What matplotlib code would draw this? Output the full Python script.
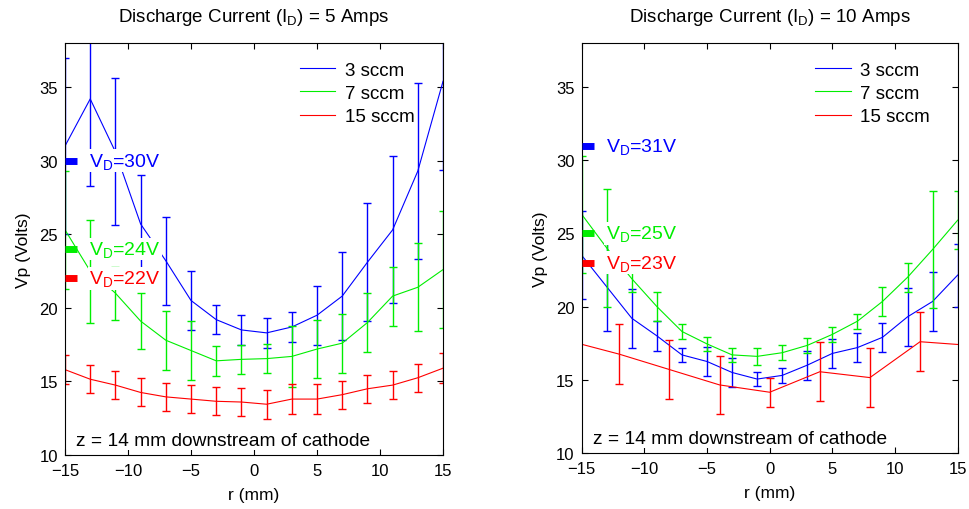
import matplotlib
matplotlib.use('Agg')
import matplotlib.pyplot as plt
import numpy as np

plt.rcParams['font.family'] = ['Liberation Sans', 'DejaVu Sans']
plt.rcParams['mathtext.default'] = 'regular'

# ---------------- data ----------------
r_odd = [-15, -13, -11, -9, -7, -5, -3, -1, 1, 3, 5, 7, 9, 11, 13, 15]

# I_D = 5 A
blue_5 = [31.0, 34.2, 30.6, 25.7, 23.2, 20.5, 19.2, 18.5, 18.3, 18.7, 19.5, 20.8, 23.1, 25.3, 29.3, 35.4]
blue_5_err = [6, 5.9, 5, 3.3, 3, 2, 1, 1, 1, 1, 2, 3, 4, 5, 6, 6]
green_5 = [25.3, 22.5, 21.0, 19.1, 17.8, 17.1, 16.4, 16.5, 16.55, 16.7, 17.2, 17.6, 19.0, 20.8, 21.4, 22.6]
green_5_err = [4, 3.5, 1.8, 1.9, 2, 2, 1, 1, 1, 2.1, 2, 2, 2, 2, 3, 4]
red_5 = [15.8, 15.15, 14.75, 14.25, 13.95, 13.8, 13.65, 13.6, 13.45, 13.8, 13.8, 14.1, 14.5, 14.75, 15.25, 15.9]
red_5_err = [1.0, 0.95, 0.95, 0.95, 0.95, 0.95, 0.95, 0.95, 1.0, 1.0, 1.0, 0.95, 0.95, 0.95, 0.95, 1.0]

# I_D = 10 A
blue_10 = [23.5, 21.35, 19.2, 18.0, 16.7, 16.25, 15.5, 15.05, 15.3, 16.0, 16.8, 17.2, 17.9, 19.3, 20.35, 22.15]
blue_10_err = [3, 3, 2, 1, 0.5, 1, 1, 0.5, 0.5, 1, 1, 1, 1, 2, 2, 2.15]
green_10 = [26.3, 24.0, 21.9, 20.0, 18.3, 17.45, 16.7, 16.6, 16.85, 17.35, 18.1, 19.0, 20.35, 22.0, 23.9, 25.9]
green_10_err = [4, 4, 0.9, 1, 0.5, 0.5, 0.5, 0.6, 0.5, 0.5, 0.5, 0.5, 1, 1, 4, 2]
r_even = [-16, -12, -8, -4, 0, 4, 8, 12, 16]
red_10 = [17.65, 16.75, 15.7, 14.65, 14.15, 15.55, 15.15, 17.6, 17.35]
red_10_err = [2, 2.05, 2, 2, 1, 2, 2, 2, 2]

series_labels = ['3 sccm', '7 sccm', '15 sccm']
titles = [r'Discharge Current (I$_{D}$) = 5 Amps', r'Discharge Current (I$_{D}$) = 10 Amps']
vd_5 = [30, 24, 22]
vd_10 = [31, 25, 23]
note = 'z = 14 mm downstream of cathode'

colors = ['#0000ff', '#00ee00', '#ff0000']

fig = plt.figure(figsize=(9.69, 5.10), dpi=100)
ax1 = fig.add_axes([0.0671, 0.1059, 0.3901, 0.8078])
ax2 = fig.add_axes([0.6003, 0.1098, 0.3880, 0.8039])


def panel(ax, data, vds, title):
    handles = []
    for (x, y, e), c, lab in zip(data, colors, series_labels):
        h, = ax.plot(x, y, color=c, lw=0.8, label=lab, zorder=2)
        ax.errorbar(x, y, yerr=e, fmt='none', ecolor=c, elinewidth=1.0,
                    capsize=3, capthick=1.0, zorder=2)
        handles.append(h)
    for v, c in zip(vds, colors):
        ax.plot([-15, -14.05], [v, v], color=c, lw=5, solid_capstyle='butt',
                zorder=3, clip_on=False)
        ax.text(-13.1, v, r'V$_{D}$=%dV' % v, color=c, fontsize=14,
                va='center', ha='left', zorder=4,
                bbox=dict(facecolor='white', edgecolor='none', pad=1))
    ax.set_xlim(-15, 15)
    ax.set_ylim(10, 38)
    ax.set_xticks([-15, -10, -5, 0, 5, 10, 15])
    ax.set_yticks([10, 15, 20, 25, 30, 35])
    ax.tick_params(direction='in', top=True, right=True, length=4,
                   labelsize=12, width=0.8)
    ax.tick_params(axis='x', pad=6)
    ax.tick_params(axis='y', pad=5)
    ax.set_title(title, fontsize=13.5, pad=16)
    ax.set_xlabel('r (mm)', fontsize=12.5, labelpad=6)
    ax.set_ylabel('Vp (Volts)', fontsize=12.5, labelpad=6)
    ax.text(0.03, 0.035, note, transform=ax.transAxes, fontsize=13.8,
            ha='left', va='center', zorder=5,
            bbox=dict(facecolor='white', edgecolor='none', pad=1))
    ax.legend(handles=handles, loc='upper left',
              bbox_to_anchor=(0.571, 1.0), frameon=False, fontsize=13.5,
              handlelength=1.9, handletextpad=0.5, labelspacing=0.32,
              borderpad=0.5)
    for s in ax.spines.values():
        s.set_linewidth(0.8)


panel(ax1, [(r_odd, blue_5, blue_5_err), (r_odd, green_5, green_5_err),
            (r_odd, red_5, red_5_err)], vd_5, titles[0])
panel(ax2, [(r_odd, blue_10, blue_10_err), (r_odd, green_10, green_10_err),
            (r_even, red_10, red_10_err)], vd_10, titles[1])

fig.savefig('out.png', dpi=100)
